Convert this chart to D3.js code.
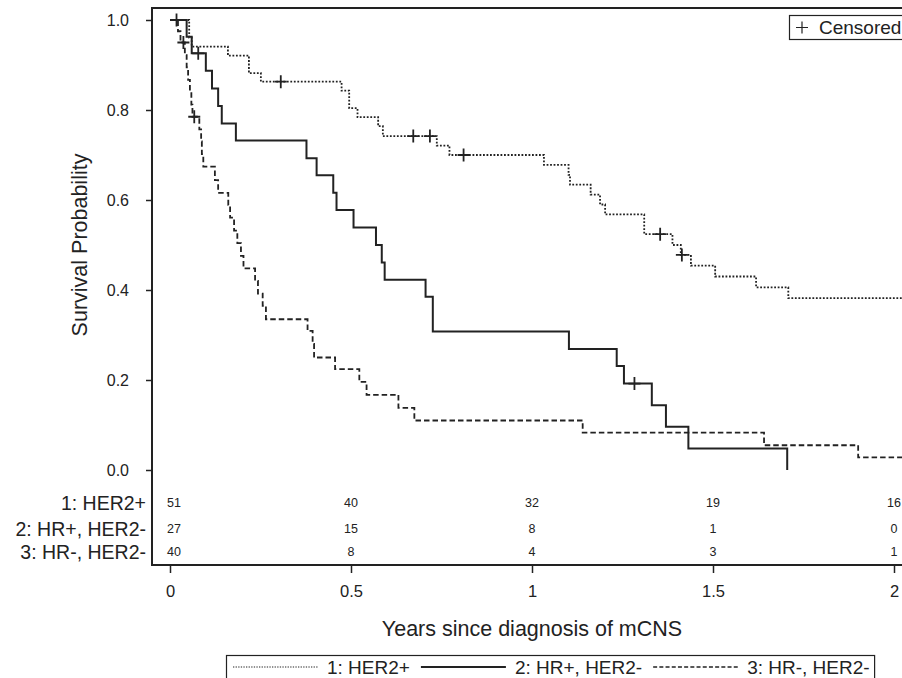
<!DOCTYPE html>
<html><head><meta charset="utf-8">
<script src="https://cdn.jsdelivr.net/npm/d3@7"></script>
<style>
html,body{margin:0;padding:0;background:#fff;}
svg{display:block;}
text{font-family:"Liberation Sans",Arial,Helvetica,sans-serif;fill:#222;}
</style></head>
<body>
<svg id="chart" width="902" height="678"></svg>
<script>
// ---- data ----
const groups = ["1: HER2+", "2: HR+, HER2-", "3: HR-, HER2-"];
const her2Times = [0.053, 0.060, 0.160, 0.218, 0.251, 0.474, 0.495, 0.518, 0.575, 0.588, 0.737, 0.772, 1.033, 1.101, 1.105, 1.162, 1.188, 1.202, 1.310, 1.388, 1.411, 1.439, 1.506, 1.619, 1.708];
const her2Surv  = [0.961, 0.941, 0.921, 0.882, 0.863, 0.843, 0.804, 0.784, 0.764, 0.742, 0.721, 0.700, 0.678, 0.656, 0.634, 0.612, 0.590, 0.568, 0.524, 0.500, 0.478, 0.454, 0.430, 0.406, 0.382];
const her2Censor = [0.018, 0.306, 0.672, 0.718, 0.811, 1.354, 1.414];
const her2End = 2.05;

const hrPosTimes = [0.046, 0.060, 0.099, 0.116, 0.133, 0.143, 0.182, 0.377, 0.405, 0.451, 0.460, 0.507, 0.569, 0.585, 0.593, 0.706, 0.726, 1.102, 1.234, 1.254, 1.331, 1.370, 1.432, 1.705];
const hrPosSurv  = [0.963, 0.926, 0.887, 0.848, 0.809, 0.770, 0.732, 0.693, 0.655, 0.616, 0.578, 0.539, 0.500, 0.461, 0.423, 0.385, 0.308, 0.269, 0.231, 0.192, 0.144, 0.096, 0.048, 0.000];
const hrPosCensor = [0.078, 1.283];

const hrNegTimes = [0.022, 0.029, 0.041, 0.046, 0.050, 0.055, 0.059, 0.062, 0.081, 0.086, 0.088, 0.092, 0.124, 0.133, 0.161, 0.166, 0.177, 0.186, 0.196, 0.203, 0.235, 0.243, 0.256, 0.265, 0.380, 0.394, 0.398, 0.456, 0.523, 0.543, 0.631, 0.675, 1.140, 1.641, 1.901];
const hrNegSurv  = [0.975, 0.950, 0.922, 0.895, 0.867, 0.840, 0.812, 0.785, 0.757, 0.730, 0.702, 0.674, 0.644, 0.616, 0.589, 0.561, 0.532, 0.504, 0.476, 0.448, 0.420, 0.392, 0.365, 0.335, 0.309, 0.280, 0.250, 0.224, 0.196, 0.167, 0.138, 0.110, 0.083, 0.055, 0.028];
const hrNegCensor = [0.037, 0.067];
const hrNegEnd = 2.05;

const riskTimes = [0, 0.5, 1, 1.5, 2];
const riskHer2  = [51, 40, 32, 19, 16];
const riskHrPos = [27, 15, 8, 1, 0];
const riskHrNeg = [40, 8, 4, 3, 1];

const xTicks = [0, 0.5, 1, 1.5, 2];
const yTicks = [0.0, 0.2, 0.4, 0.6, 0.8, 1.0];

// ---- layout ----
const svg = d3.select("#chart");
const x = d3.scaleLinear().domain([0, 2]).range([170, 894]);
const y = d3.scaleLinear().domain([0, 1]).range([470, 20]);
const axisLeftX = 152, axisTopY = 8, axisBottomY = 565;
const ink = "#222";

svg.append("defs").append("clipPath").attr("id", "plotclip")
  .append("rect").attr("x", axisLeftX).attr("y", axisTopY).attr("width", 902 - axisLeftX).attr("height", axisBottomY - axisTopY);

// frame lines
svg.append("line").attr("x1", axisLeftX).attr("x2", 905).attr("y1", axisTopY).attr("y2", axisTopY)
  .attr("stroke", ink).attr("stroke-width", 2);
svg.append("line").attr("x1", axisLeftX).attr("x2", axisLeftX).attr("y1", axisTopY - 1).attr("y2", axisBottomY + 1)
  .attr("stroke", ink).attr("stroke-width", 2);
svg.append("line").attr("x1", axisLeftX - 1).attr("x2", 905).attr("y1", axisBottomY).attr("y2", axisBottomY)
  .attr("stroke", ink).attr("stroke-width", 2);

// y axis
const yAxis = svg.append("g").attr("transform", `translate(${axisLeftX},0)`)
  .call(d3.axisLeft(y).tickValues(yTicks).tickFormat(d3.format(".1f")).tickSize(6).tickPadding(17));
yAxis.select(".domain").remove();
yAxis.selectAll(".tick line").attr("stroke", ink).attr("stroke-width", 1.5);
yAxis.selectAll(".tick text").style("font-size", "16px").attr("fill", ink);

// x axis
const xAxis = svg.append("g").attr("transform", `translate(0,${axisBottomY})`)
  .call(d3.axisBottom(x).tickValues(xTicks).tickFormat(d => String(d)).tickSize(8).tickPadding(12));
xAxis.select(".domain").remove();
xAxis.selectAll(".tick line").attr("stroke", ink).attr("stroke-width", 1.5);
xAxis.selectAll(".tick text").style("font-size", "16.5px").attr("fill", ink);

// axis titles
svg.append("text").attr("transform", `translate(79,${(y(0) + y(1)) / 2}) rotate(-90)`)
  .attr("dy", "0.35em").attr("text-anchor", "middle").style("font-size", "21.5px").text("Survival Probability");
svg.append("text").attr("x", x(1)).attr("y", 628).attr("dy", "0.35em").attr("text-anchor", "middle")
  .style("font-size", "21.5px").text("Years since diagnosis of mCNS");

// curves
function stepPoints(times, surv, end) {
  const pts = [[0, 1]];
  times.forEach((t, i) => pts.push([t, surv[i]]));
  if (end !== undefined) pts.push([end, surv[surv.length - 1]]);
  return pts;
}
function survAt(times, surv, t) {
  let s = 1;
  times.forEach((tt, i) => { if (tt <= t) s = surv[i]; });
  return s;
}
const line = d3.line().x(d => x(d[0])).y(d => y(d[1])).curve(d3.curveStepAfter);
const series = [
  {times: her2Times, surv: her2Surv, cens: her2Censor, end: her2End, dash: "1.8,1.7", w: 1.8},
  {times: hrPosTimes, surv: hrPosSurv, cens: hrPosCensor, end: undefined, dash: null, w: 2},
  {times: hrNegTimes, surv: hrNegSurv, cens: hrNegCensor, end: hrNegEnd, dash: "5.5,3", w: 1.8}
];
const plot = svg.append("g").attr("clip-path", "url(#plotclip)");
series.forEach(s => {
  plot.append("path").datum(stepPoints(s.times, s.surv, s.end))
    .attr("d", line).attr("fill", "none").attr("stroke", ink)
    .attr("stroke-width", s.w).attr("stroke-dasharray", s.dash);
});
series.forEach(s => {
  s.cens.forEach(t => {
    const cx = x(t), cy = y(survAt(s.times, s.surv, t));
    plot.append("path").attr("d", `M${cx - 6},${cy}H${cx + 6}M${cx},${cy - 6.5}V${cy + 6.5}`)
      .attr("stroke", ink).attr("stroke-width", 1.8).attr("fill", "none");
  });
});

// censored legend
const cl = svg.append("g");
cl.append("rect").attr("x", 789.5).attr("y", 15.5).attr("width", 120).attr("height", 24)
  .attr("fill", "#fff").attr("stroke", ink).attr("stroke-width", 1.2);
cl.append("path").attr("d", "M796,27.5H808M802,21.5V33.5").attr("stroke", ink).attr("stroke-width", 1.2);
cl.append("text").attr("x", 819).attr("y", 27.5).attr("dy", "0.35em").style("font-size", "19px").text("Censored");

// risk table
const riskRows = [riskHer2, riskHrPos, riskHrNeg];
const rowY = [503, 529, 552];
riskRows.forEach((row, i) => {
  svg.append("text").attr("x", 146).attr("y", rowY[i]).attr("dy", "0.35em").attr("text-anchor", "end")
    .style("font-size", "19.5px").text(groups[i]);
  row.forEach((v, j) => {
    svg.append("text").attr("x", x(riskTimes[j]) + (j === 0 ? 4 : 0)).attr("y", rowY[i]).attr("dy", "0.35em")
      .attr("text-anchor", "middle").style("font-size", "12.5px").text(v);
  });
});

// bottom legend (laid out sequentially)
const lg = svg.append("g");
const legStyles = [
  {dash: "1.3,1.3", w: 1.2},
  {dash: null, w: 2},
  {dash: "4,2.2", w: 1.5}
];
const legY = 667, sampleLen = 85;
let cx = 233;
groups.forEach((g, i) => {
  lg.append("line").attr("x1", cx).attr("x2", cx + sampleLen).attr("y1", legY).attr("y2", legY)
    .attr("stroke", ink).attr("stroke-width", legStyles[i].w).attr("stroke-dasharray", legStyles[i].dash);
  cx += sampleLen + 9;
  const t = lg.append("text").attr("x", cx).attr("y", legY).attr("dy", "0.35em").style("font-size", "19px").text(g);
  cx += t.node().getComputedTextLength() + 11;
});
lg.insert("rect", ":first-child").attr("x", 226.5).attr("y", 655.5).attr("width", cx - 226.5 - 6).attr("height", 24)
  .attr("fill", "none").attr("stroke", ink).attr("stroke-width", 1.2);
</script>
</body></html>
